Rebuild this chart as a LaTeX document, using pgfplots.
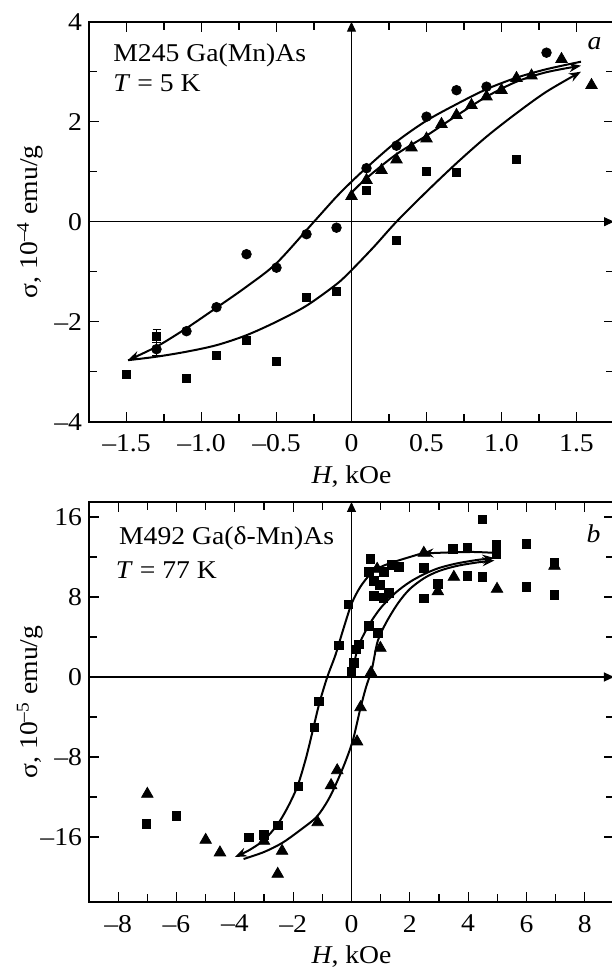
\documentclass[border=0pt]{standalone}
\usepackage{fontspec}
\setmainfont{Liberation Serif}[FakeStretch=1.08]
\usepackage{pgfplots}
\pgfplotsset{compat=1.18}
\usetikzlibrary{arrows.meta}

\newcommand\fs{\fontsize{12.8}{15}\selectfont}

\tikzset{ax/.style={line width=0.55pt, -{Triangle[length=5pt,width=4.5pt]}}}

\pgfplotsset{
  panel/.style={
    scale only axis, width=262.5pt, height=200pt,
    clip=false,
    axis line style={line width=1.1pt},
    every tick/.style={line width=0.65pt, black},
    major tick length=5pt, minor tick length=4pt,
    tick align=inside,
    minor tick num=1,
    tick label style={font=\fs},
    xticklabel style={yshift=-3pt},
    label style={font=\fs},
    xlabel style={at={(axis description cs:0.5,-0.1375)}, anchor=center},
    ylabel style={at={(axis description cs:-0.1124,0.5)}, anchor=center},
  },
  curve/.style={black, line width=1pt, smooth, tension=0.5, -{Stealth[length=6pt,width=4.5pt]}},
  sq/.style={only marks, mark=square*, mark size=2.1pt, black},
  ci/.style={only marks, mark=*, mark size=2.4pt, black},
  tr/.style={only marks, mark=triangle*, mark size=3.3pt, black},
}

\begin{document}
\begin{tikzpicture}
\useasboundingbox (-44.5pt,-275.15pt) rectangle (261pt,210.85pt);

% panel a
\begin{axis}[panel,
  xmin=-1.75, xmax=1.75, ymin=-4, ymax=4,
  xtick={-1.5,-1,-0.5,0,0.5,1,1.5},
  xticklabels={--1.5,--1.0,--0.5,0,0.5,1.0,1.5},
  ytick={-4,-2,0,2,4}, yticklabels={--4,--2,0,2,4},
  xlabel={\textit{H}, kOe},
  ylabel={σ, 10\textsuperscript{--4} emu/g}]
  \draw[ax] (axis cs:0,-4) -- (axis cs:0,4);
  \draw[ax] (axis cs:-1.75,0) -- (axis cs:1.75,0);

  % branch going down
  \addplot[curve] coordinates {
    (1.53,3.2) (1.3,3.05) (1.1,2.88) (0.9,2.65) (0.7,2.35) (0.5,2.02)
    (0.3,1.6) (0.1,1.08) (0,0.8) (-0.1,0.5) (-0.25,0) (-0.5,-0.83)
    (-0.7,-1.3) (-0.9,-1.72) (-1.1,-2.13) (-1.3,-2.5) (-1.49,-2.77)
  };
  % branch going up
  \addplot[curve] coordinates {
    (-1.49,-2.77) (-1.3,-2.7) (-1.1,-2.6) (-0.9,-2.47) (-0.7,-2.27)
    (-0.5,-2.0) (-0.3,-1.68) (-0.1,-1.25) (0,-0.97) (0.15,-0.5) (0.3,0)
    (0.5,0.6) (0.7,1.17) (0.9,1.7) (1.1,2.17) (1.3,2.6) (1.53,3.0)
  };
  % from remanence
  \addplot[curve] coordinates {
    (0,0.58) (0.1,0.87) (0.3,1.35) (0.5,1.72) (0.7,2.12) (0.9,2.5)
    (1.1,2.8) (1.3,2.99) (1.53,3.12)
  };

  \addplot[ci] coordinates {
    (1.3,3.38) (0.9,2.70) (0.7,2.63) (0.5,2.1) (0.3,1.52) (0.1,1.07)
    (-0.1,-0.12) (-0.3,-0.25) (-0.5,-0.92) (-0.7,-0.65) (-0.9,-1.71)
    (-1.1,-2.19) (-1.3,-2.55)
  };
  \addplot[sq] coordinates {
    (1.1,1.25) (0.7,0.99) (0.5,1.01) (0.3,-0.37) (0.1,0.63) (-0.1,-1.39)
    (-0.3,-1.51) (-0.5,-2.79) (-0.7,-2.38) (-0.9,-2.67) (-1.1,-3.13)
    (-1.3,-2.29) (-1.5,-3.05)
  };
  \addplot[tr] coordinates {
    (0,0.51) (0.1,0.83) (0.2,1.03) (0.3,1.24) (0.4,1.48) (0.5,1.66)
    (0.6,1.95) (0.7,2.13) (0.8,2.33) (0.9,2.50) (1.0,2.63) (1.1,2.87)
    (1.2,2.92) (1.4,3.25) (1.6,2.73)
  };
  \addplot[black, mark=none, forget plot, error bars/.cd, y dir=both, y explicit,
    error bar style={line width=0.6pt}] coordinates {(-1.3,-2.29) +- (0,0.13)};
  \addplot[black, mark=none, forget plot, error bars/.cd, y dir=both, y explicit,
    error bar style={line width=0.6pt}] coordinates {(-1.3,-2.55) +- (0,0.13)};

  \node[font=\fs, anchor=west, inner sep=0pt] at (axis cs:-1.59,3.33) {M245 Ga(Mn)As};
  \node[font=\fs, anchor=west, inner sep=0pt] at (axis cs:-1.59,2.77) {\textit{T} = 5 K};
  \node[font=\fs\itshape] at (axis cs:1.62,3.57) {a};
\end{axis}

% panel b
\begin{axis}[panel, at={(0,-240.15pt)},
  xmin=-9, xmax=9, ymin=-22.5, ymax=17.5,
  xtick={-8,-6,-4,-2,0,2,4,6,8},
  xticklabels={--8,--6,--4,--2,0,2,4,6,8},
  ytick={-16,-8,0,8,16}, yticklabels={--16,--8,0,8,16},
  xlabel={\textit{H}, kOe},
  ylabel={σ, 10\textsuperscript{--5} emu/g}]
  \draw[ax] (axis cs:0,-22.5) -- (axis cs:0,17.5);
  \draw[ax] (axis cs:-9,0) -- (axis cs:9,0);

  % descending branch, arrow midway
  \addplot[curve] coordinates {
    (5.0,12.4) (4.2,12.5) (3.3,12.45) (2.4,12.35)
  };
  \addplot[curve] coordinates {
    (2.4,12.35) (1.5,11.55) (1.0,11.0) (0.65,10.3) (0.3,9.0) (0,7.3)
    (-0.3,4.6) (-0.55,2.2) (-0.83,0) (-1.1,-2.6) (-1.3,-5.0) (-1.55,-8.0)
    (-1.85,-10.9) (-2.2,-13.1) (-2.55,-14.8) (-3.0,-16.3) (-3.5,-17.3)
    (-4.0,-18.0)
  };
  % ascending branch
  \addplot[curve] coordinates {
    (-3.7,-18.2) (-3.0,-17.5) (-2.38,-16.6) (-1.8,-15.4) (-1.2,-14.0)
    (-0.8,-12.3) (-0.5,-10.5) (-0.2,-8.4) (0.05,-6.3) (0.3,-3.2) (0.5,-1.0)
    (0.7,0.8) (0.9,3.6) (1.2,5.5) (1.6,7.4) (2.0,8.8) (2.5,9.9) (3.0,10.6)
    (3.6,11.1) (4.3,11.45) (4.9,11.65)
  };
  % initial curve
  \addplot[curve] coordinates {
    (0,0) (0.1,1.5) (0.25,3.2) (0.6,5.2) (1.0,6.9) (1.5,8.4) (2.0,9.5)
    (2.5,10.3) (3.0,10.9) (3.6,11.35) (4.3,11.7) (4.9,11.9)
  };

  \addplot[sq] coordinates {
    (4.48,15.75) (3.47,12.8) (3.97,12.9) (4.96,13.2) (4.96,12.3) (5.99,13.3)
    (2.48,10.9) (3.97,10.1) (4.48,10.0) (5.99,9.0) (6.96,8.2) (2.48,7.85)
    (2.96,9.3) (6.96,11.4) (0.65,11.8) (0.59,10.5) (1.11,10.5) (1.39,11.2)
    (1.62,11.0) (0.77,9.6) (0.97,9.2) (0.77,8.1) (1.09,7.9) (1.28,8.4)
    (-0.1,7.25) (0.6,5.1) (0.9,4.4) (-0.43,3.15) (0.25,3.25) (0.17,2.75)
    (0.08,1.4) (0,0.5) (-1.12,-2.45) (-1.27,-5.03) (-1.83,-10.93)
    (-2.53,-14.81) (-3.0,-15.8) (-3.52,-16.06) (-7.03,-14.7) (-6.01,-13.9)
  };
  \addplot[tr] coordinates {
    (2.48,12.4) (3.51,10.0) (2.96,8.55) (4.99,8.8) (6.96,11.1) (0.88,10.8)
    (0.99,2.9) (0.67,0.44) (0.31,-3.04) (0.19,-6.46) (-0.49,-9.34)
    (-0.70,-10.83) (-1.16,-14.54) (-2.38,-17.4) (-2.53,-19.7) (-3.0,-16.4)
    (-4.51,-17.56) (-5.0,-16.3) (-7.0,-11.7)
  };

  \node[font=\fs, anchor=west, inner sep=0pt] at (axis cs:-7.98,13.86) {M492 Ga(δ-Mn)As};
  \node[font=\fs, anchor=west, inner sep=0pt] at (axis cs:-8.09,10.7) {\textit{T} = 77 K};
  \node[font=\fs\itshape] at (axis cs:8.3,14.35) {b};
\end{axis}
\end{tikzpicture}
\end{document}
